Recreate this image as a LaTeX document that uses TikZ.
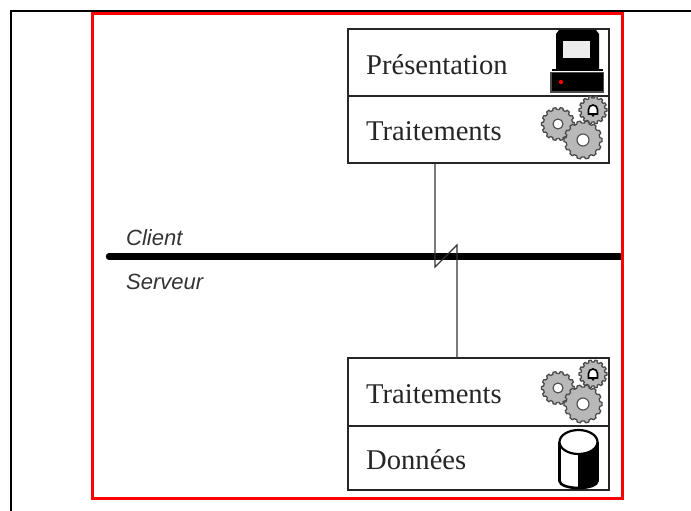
\documentclass[tikz,border=0pt]{standalone}
\usepackage{fontspec}
\setmainfont{Liberation Serif}
\setsansfont{Liberation Sans}
\definecolor{gearfill}{gray}{0.72}
\definecolor{gearline}{gray}{0.3}
\definecolor{screenfill}{gray}{0.93}
\tikzset{
  tier/.style={draw=black!85,line width=1.3pt,fill=none,minimum width=261pt,inner sep=0pt,outer sep=0pt},
  tierlabel/.style={anchor=west,inner sep=0pt,font=\fontsize{28.6pt}{32pt}\selectfont,text=black!85},
  sidelabel/.style={anchor=west,inner sep=0pt,font=\sffamily\itshape\fontsize{22pt}{26pt}\selectfont,text=black!80},
  link/.style={draw=black!80,line width=1.1pt},
  gearshape/.style={draw=gearline,line width=1.3pt,fill=gearfill,line join=round},
}
% gear: x, y, outer radius, hole radius
\newcommand{\gearat}[4]{%
  \begin{scope}[shift={(#1,#2)}]
    \pgfmathsetmacro{\ri}{#3-2}
    \draw[gearshape] (-8:\ri)
      \foreach \i in {0,...,13}{
        \pgfextra{\pgfmathsetmacro{\a}{\i*360/14}}
        -- ({\a-8}:\ri) -- ({\a-5}:#3) -- ({\a+5}:#3) -- ({\a+8}:\ri)
      } -- cycle;
    \ifdim #4pt>0pt
      \draw[fill=white,draw=gearline,line width=1.1pt] (0,0) circle (#4);
    \fi
  \end{scope}}
\newcommand{\gearsat}[1]{%
  \begin{scope}[yshift=#1]
    \gearat{558}{124}{16.5}{5}
    \gearat{593}{110}{14}{0}
    \filldraw[fill=white,draw=black,line width=1.6pt] (588.5,114) -- (588.5,109.5) arc[start angle=180,end angle=360,radius=4.5] -- (597.5,114) -- cycle;
    \fill[black] (593,115.5) circle (1.4);
    \gearat{583}{140}{19}{6}
  \end{scope}}
\begin{document}
\begin{tikzpicture}[x=1pt,y=-1pt]
\useasboundingbox (0,0) rectangle (691,511);
\fill[white] (0,0) rectangle (691,511);
% outer black frame
\coordinate (frameTR) at (691,11);
\coordinate (frameTL) at (11,11);
\coordinate (frameBL) at (11,511);
\draw[black,line width=1.5pt] (frameTR) -- (frameTL) -- (frameBL);
% tiers
\node[tier,minimum height=67pt,anchor=north west] (pres) at (348,29) {};
\node[tier,minimum height=67pt,anchor=north west] (trait) at (pres.south west) {};
\node[tier,minimum height=68pt,anchor=north west] (trait2) at (348,358) {};
\node[tier,minimum height=64pt,anchor=north west] (donn) at (trait2.south west) {};
\node[tierlabel] (tpres) at (366,65) {Présentation};
\node[tierlabel] (ttrait) at (366,131) {Traitements};
\node[tierlabel] (ttrait2) at (366,394) {Traitements};
\node[tierlabel] (tdonn) at (366,460) {Données};
% client/server divide
\coordinate (divL) at (109,256.5);
\coordinate (divR) at (620,256.5);
\draw[black,line width=6.4pt,line cap=round] (divL) -- (divR);
\node[sidelabel] (client) at (126,238) {Client};
\node[sidelabel] (serveur) at (126,282) {Serveur};
% link crossing the divide
\coordinate (z1) at (435,267);
\coordinate (z2) at (457,245);
\draw[link] (trait.south -| z1) -- (z1) -- (z2) -- (trait2.north -| z2);
% computer icon
\fill[black] (559,30) -- (596,30) -- (599,34) -- (599,69) -- (556,69) -- (556,34) -- cycle;
\fill[screenfill] (563,41) rectangle (590,58);
\fill[black] (552,69) rectangle (603,71);
\draw[gearline,fill=black,line width=1.3pt] (551,72.5) rectangle (603.5,92);
\fill[red] (561,82) circle (2.1);
% gears
\gearsat{0pt}
\gearsat{-264pt}
% cylinder icon
\begin{scope}
\clip (549,428) rectangle (606,489);
\fill[white] (559.5,442) -- (559.5,481) arc[x radius=19,y radius=7,start angle=180,end angle=0] -- (597.5,442) -- cycle;
\fill[black] (578,446) -- (578,488) arc[x radius=19.5,y radius=7,start angle=90,end angle=0] -- (597.5,442) -- cycle;
\draw[black,line width=2.6pt] (559.5,442) -- (559.5,481) arc[x radius=19,y radius=7,start angle=180,end angle=0] -- (597.5,442);
\draw[black,fill=white,line width=2.2pt] (578.5,442) ellipse (19 and 12);
\end{scope}
% red frame
\draw[red,line width=3pt] (92.5,13.5) rectangle (622,498);
\end{tikzpicture}
\end{document}
